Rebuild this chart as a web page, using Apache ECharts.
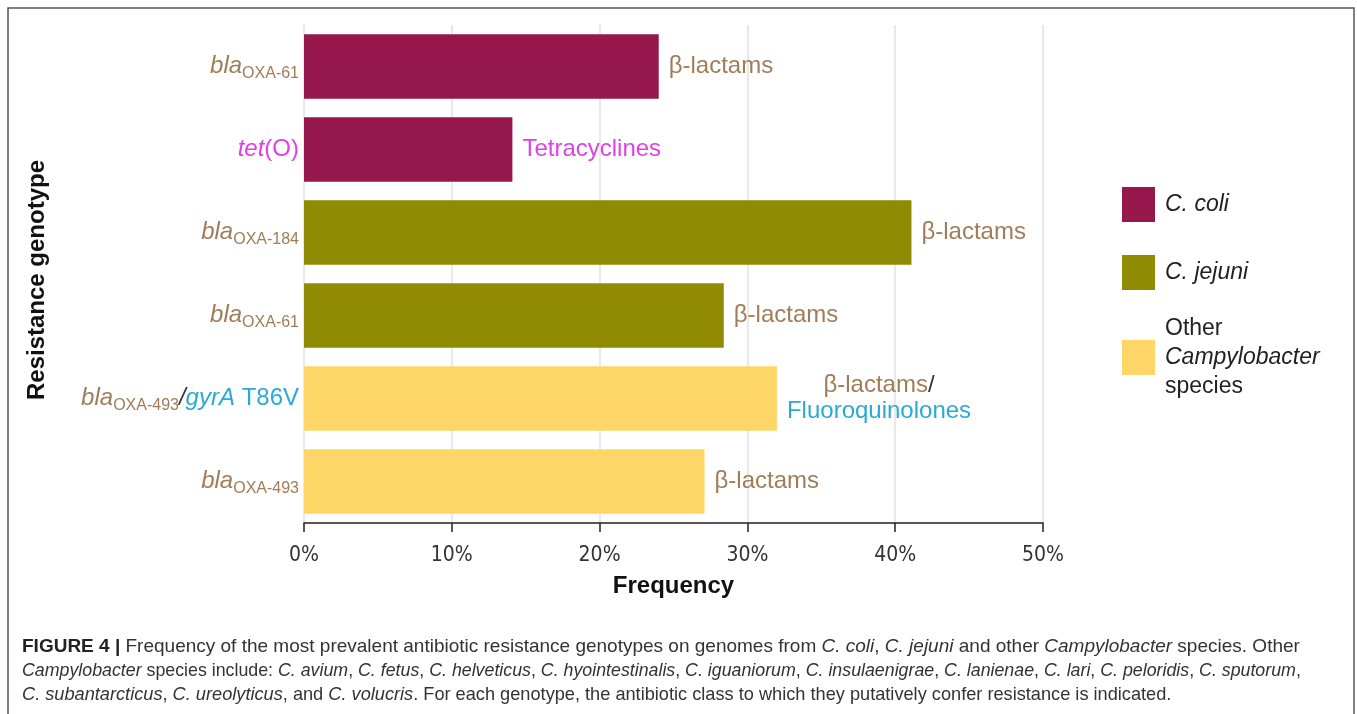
<!DOCTYPE html>
<html>
<head>
<meta charset="utf-8">
<script src="https://cdn.jsdelivr.net/npm/echarts@6/dist/echarts.min.js"></script>
<style>
    html, body { margin: 0; padding: 0; background: #fff; }
    #main { width: 1357px; height: 714px; }
</style>
</head>
<body>
<div id="main"></div>
<script>
    // genotype rows, top to bottom
    var genotypes = ['bla_OXA-61', 'tet(O)', 'bla_OXA-184', 'bla_OXA-61b', 'bla_OXA-493/gyrA', 'bla_OXA-493'];
    // antibiotic class shown at the end of each bar
    var classes = ['bl', 'tet', 'bl', 'bl', 'blfq', 'bl'];
    // frequency (%) per species group, '-' where the row belongs to another group
    var coliValues = [24.0, 14.1, '-', '-', '-', '-'];
    var jejuniValues = ['-', '-', 41.1, 28.4, '-', '-'];
    var otherValues = ['-', '-', '-', '-', 32.0, 27.1];
    var speciesNames = ['C. coli', 'C. jejuni', 'Other Campylobacter species'];
    var speciesColors = ['#95174c', '#908b02', '#fed667'];
    var xTicks = [0, 10, 20, 30, 40, 50];

    var brown = '#a07d58', magenta = '#e040e4', cyan = '#2aa9d9';
    var font = 'Liberation Sans';
    var tickFont = '"DejaVu Sans Condensed", "Liberation Sans"';

    var catLabels = {
        'bla_OXA-61': '{bi|bla}{bs|OXA-61}',
        'tet(O)': '{ti|tet}{tn|(O)}',
        'bla_OXA-184': '{bi|bla}{bs|OXA-184}',
        'bla_OXA-61b': '{bi|bla}{bs|OXA-61}',
        'bla_OXA-493/gyrA': '{bi|bla}{bs|OXA-493}{sl|/}{gi|gyrA}{gn| T86V}',
        'bla_OXA-493': '{bi|bla}{bs|OXA-493}'
    };
    var classLabels = {
        bl: '{b|β-lactams}',
        tet: '{t|Tetracyclines}',
        blfq: '{bc|β-lactams}{sc|/}\n{fc|Fluoroquinolones}'
    };
    var legendLabels = {
        'C. coli': '{it|C. coli}',
        'C. jejuni': '{it|C. jejuni}',
        'Other Campylobacter species': '{n3|Other}\n{i3|Campylobacter}\n{n3|species}'
    };

    var caption = [
        '{fb|FIGURE 4 |} Frequency of the most prevalent antibiotic resistance genotypes on genomes from {ci|C. coli}, {ci|C. jejuni} and other {ci|Campylobacter} species. Other',
        '{ci|Campylobacter} species include: {ci|C. avium}, {ci|C. fetus}, {ci|C. helveticus}, {ci|C. hyointestinalis}, {ci|C. iguaniorum}, {ci|C. insulaenigrae}, {ci|C. lanienae}, {ci|C. lari}, {ci|C. peloridis}, {ci|C. sputorum},',
        '{ci|C. subantarcticus}, {ci|C. ureolyticus}, and {ci|C. volucris}. For each genotype, the antibiotic class to which they putatively confer resistance is indicated.'
    ];
    var captionSizes = [19, 17.8, 18.2];

    // give every caption line its own style keys (plain text -> cn, italics -> ci)
    var captionRich = { fb: { fontFamily: font, fontSize: 19, fontWeight: 'bold', color: '#222', lineHeight: 24 } };
    function captionLine(line, i) {
        captionRich['cn' + i] = { fontFamily: font, fontSize: captionSizes[i], fontWeight: 'normal', color: '#333', lineHeight: 24 };
        captionRich['ci' + i] = { fontFamily: font, fontSize: captionSizes[i], fontWeight: 'normal', fontStyle: 'italic', color: '#333', lineHeight: 24 };
        line = line.replace(/(^|\})([^{}]+)(?=\{|$)/g, function (m, p, t) { return p + '{cn|' + t + '}'; });
        return line.replace(/\{cn\|/g, '{cn' + i + '|').replace(/\{ci\|/g, '{ci' + i + '|');
    }

    var barLabel = {
        show: true,
        position: 'right',
        distance: 10,
        formatter: function (p) { return classLabels[classes[p.dataIndex]]; },
        rich: {
            b: { fontFamily: font, fontSize: 24, color: brown },
            t: { fontFamily: font, fontSize: 24, color: magenta },
            bc: { fontFamily: font, fontSize: 24, color: brown, align: 'center', lineHeight: 26 },
            sc: { fontFamily: font, fontSize: 24, color: '#333', align: 'center', lineHeight: 26 },
            fc: { fontFamily: font, fontSize: 24, color: cyan, align: 'center', lineHeight: 26 }
        }
    };

    function makeSeries(i, values) {
        return {
            name: speciesNames[i],
            type: 'bar',
            stack: 'all',
            barCategoryGap: '22%',
            itemStyle: { color: speciesColors[i] },
            label: barLabel,
            data: values
        };
    }

    var legendText = {
        padding: [0, 0, 0, 5],
        rich: {
            it: { fontFamily: font, fontSize: 23, fontStyle: 'italic', color: '#222' },
            n3: { fontFamily: font, fontSize: 23, color: '#222', lineHeight: 29 },
            i3: { fontFamily: font, fontSize: 23, fontStyle: 'italic', color: '#222', lineHeight: 29 }
        }
    };
    function makeLegend(names, top) {
        return {
            orient: 'vertical',
            left: 1117,
            top: top,
            itemWidth: 33,
            itemHeight: 35,
            itemGap: 33,
            icon: 'rect',
            data: names,
            formatter: function (name) { return legendLabels[name]; },
            textStyle: legendText
        };
    }

    var chart = echarts.init(document.getElementById('main'));
    chart.setOption({
        animation: false,
        title: {
            left: 17,
            top: 630,
            text: caption.map(captionLine).join('\n'),
            textStyle: { fontWeight: 'normal', rich: captionRich }
        },
        graphic: [{
            type: 'rect',
            shape: { x: 8, y: 8, width: 1346, height: 720 },
            style: { fill: null, stroke: '#555', lineWidth: 1.5 },
            silent: true
        }],
        legend: [
            makeLegend(speciesNames.slice(0, 2), 182),
            makeLegend(speciesNames.slice(2), 312)
        ],
        grid: { left: 304, right: 314, top: 25, bottom: 191 },
        xAxis: {
            type: 'value',
            min: xTicks[0],
            max: xTicks[xTicks.length - 1],
            interval: 10,
            name: 'Frequency',
            nameLocation: 'middle',
            nameGap: 51,
            nameTextStyle: { fontFamily: font, fontSize: 24, fontWeight: 'bold', color: '#111' },
            axisLine: { show: true, lineStyle: { color: '#222', width: 1.5 } },
            axisTick: { show: true, length: 9, lineStyle: { color: '#222', width: 1.5 } },
            axisLabel: { fontFamily: tickFont, fontSize: 21, color: '#333', margin: 22, formatter: '{value}%' },
            splitLine: { show: true, lineStyle: { color: '#e2e2e2', width: 1.5 } }
        },
        yAxis: {
            type: 'category',
            inverse: true,
            data: genotypes,
            name: 'Resistance genotype',
            nameLocation: 'middle',
            nameGap: 255,
            nameTextStyle: { fontFamily: font, fontSize: 24, fontWeight: 'bold', color: '#111', padding: [0, 12, 0, 0] },
            axisLine: { show: false },
            axisTick: { show: false },
            axisLabel: {
                margin: 5,
                formatter: function (v) { return catLabels[v]; },
                rich: {
                    bi: { fontFamily: font, fontSize: 24, fontStyle: 'italic', color: brown, lineHeight: 30 },
                    bs: { fontFamily: font, fontSize: 16, color: brown, lineHeight: 16, verticalAlign: 'bottom' },
                    ti: { fontFamily: font, fontSize: 24, fontStyle: 'italic', color: magenta, lineHeight: 30 },
                    tn: { fontFamily: font, fontSize: 24, color: magenta, lineHeight: 30 },
                    sl: { fontFamily: font, fontSize: 24, fontStyle: 'italic', color: '#333', lineHeight: 30 },
                    gi: { fontFamily: font, fontSize: 24, fontStyle: 'italic', color: cyan, lineHeight: 30 },
                    gn: { fontFamily: font, fontSize: 24, color: cyan, lineHeight: 30 }
                }
            }
        },
        series: [
            makeSeries(0, coliValues),
            makeSeries(1, jejuniValues),
            makeSeries(2, otherValues)
        ]
    });
</script>
</body>
</html>
